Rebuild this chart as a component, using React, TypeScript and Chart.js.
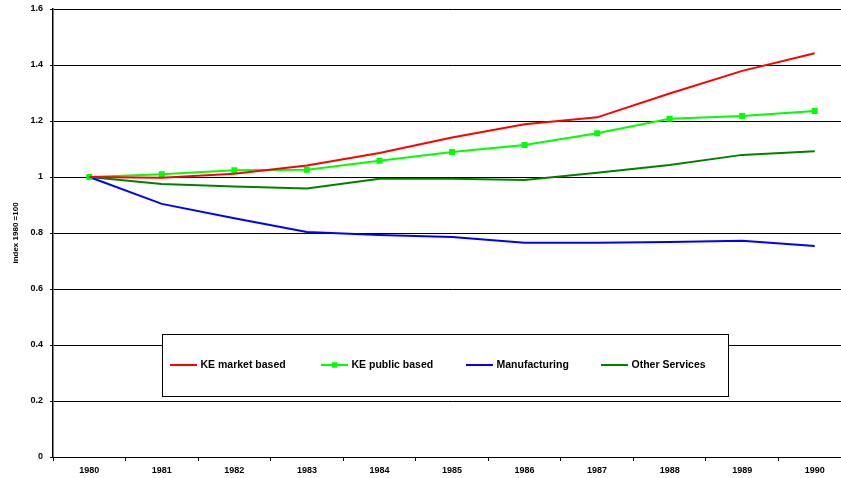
import React, { useEffect, useRef } from "react";
import { Chart, registerables } from "chart.js";

Chart.register(...registerables);

// Index values, 1980 = 1
const years = ["1980", "1981", "1982", "1983", "1984", "1985", "1986", "1987", "1988", "1989", "1990"];
const keMarketBased = [1.0, 0.997, 1.012, 1.041, 1.086, 1.141, 1.188, 1.213, 1.298, 1.379, 1.442];
const kePublicBased = [1.0, 1.01, 1.024, 1.026, 1.058, 1.089, 1.114, 1.156, 1.208, 1.218, 1.236];
const manufacturing = [1.0, 0.904, 0.853, 0.804, 0.793, 0.786, 0.765, 0.765, 0.768, 0.772, 0.754];
const otherServices = [1.0, 0.975, 0.966, 0.959, 0.994, 0.994, 0.989, 1.015, 1.043, 1.079, 1.092];

const seriesLabels = ["KE market based", "KE public based", "Manufacturing", "Other Services"];
const seriesColors = ["#ff0000", "#00ff00", "#0000ff", "#008000"];

const yMin = 0;
const yMax = 1.6;
const yStep = 0.2;
const yTitle = "index 1980 =100";

const FONT = "'Liberation Sans', Arial, Helvetica, sans-serif";

// Framed legend drawn inside the plot area, covering the grid beneath it
const boxLegend = {
  id: "boxLegend",
  afterDraw(chart: any, _args: any, opts: any) {
    const ctx = chart.ctx as CanvasRenderingContext2D;
    const { left, top, width, height, itemX, lineLength, textGap } = opts;
    ctx.save();
    ctx.fillStyle = "#ffffff";
    ctx.fillRect(left, top, width, height);
    ctx.strokeStyle = "#000000";
    ctx.lineWidth = 1;
    ctx.strokeRect(left + 0.5, top + 0.5, width, height);

    const cy = top + height / 2;
    ctx.font = `bold 10.5px ${FONT}`;
    ctx.textBaseline = "middle";
    ctx.textAlign = "left";
    chart.data.datasets.forEach((ds: any, i: number) => {
      const x = itemX[i];
      ctx.strokeStyle = ds.borderColor;
      ctx.lineWidth = 2;
      ctx.beginPath();
      ctx.moveTo(x, cy);
      ctx.lineTo(x + lineLength, cy);
      ctx.stroke();
      if (ds.pointRadius > 0) {
        const s = 5.5;
        ctx.fillStyle = ds.pointBackgroundColor;
        ctx.fillRect(x + lineLength / 2 - s / 2, cy - s / 2, s, s);
      }
      ctx.fillStyle = "#000000";
      ctx.fillText(ds.label, x + lineLength + textGap, cy);
    });
    ctx.restore();
  },
};

export default function App() {
  const canvasRef = useRef<HTMLCanvasElement | null>(null);

  useEffect(() => {
    const canvas = canvasRef.current;
    if (!canvas) return;
    const values = [keMarketBased, kePublicBased, manufacturing, otherServices];
    const chart = new Chart(canvas, {
      type: "line",
      data: {
        labels: years,
        datasets: values.map((data, i) => ({
          label: seriesLabels[i],
          data,
          borderColor: seriesColors[i],
          backgroundColor: seriesColors[i],
          borderWidth: 2,
          tension: 0,
          fill: false,
          pointStyle: "rect",
          pointRadius: i === 1 ? 4.2 : 0,
          pointHoverRadius: i === 1 ? 4.2 : 0,
          pointBorderWidth: 0,
          pointBackgroundColor: seriesColors[i],
        })),
      },
      options: {
        animation: false,
        responsive: false,
        devicePixelRatio: 1,
        layout: { padding: { top: 9, right: 5, bottom: 0, left: 0 } },
        plugins: {
          legend: { display: false },
          tooltip: { enabled: false },
          boxLegend: {
            left: 162,
            top: 334,
            width: 566,
            height: 62,
            itemX: [170, 321, 466, 601],
            lineLength: 27,
            textGap: 3.5,
          },
        } as any,
        scales: {
          x: {
            type: "category",
            offset: true,
            grid: {
              offset: true,
              drawOnChartArea: false,
              drawTicks: true,
              tickLength: 4,
              color: "#000000",
            },
            border: { color: "#000000", width: 1 },
            ticks: {
              color: "#000000",
              padding: 4,
              maxRotation: 0,
              font: { family: FONT, size: 9, weight: "bold" },
            },
            afterFit(scale: any) {
              scale.height = 21;
            },
          },
          y: {
            min: yMin,
            max: yMax,
            ticks: {
              stepSize: yStep,
              color: "#000000",
              padding: 7,
              font: { family: FONT, size: 9, weight: "bold" },
              callback: (v: any) => String(Number(Number(v).toFixed(1))),
            },
            grid: {
              color: "#000000",
              lineWidth: 1,
              drawTicks: true,
              tickLength: 3,
            },
            border: { color: "#000000", width: 1.5 },
            title: {
              display: true,
              text: yTitle,
              color: "#000000",
              padding: { top: 10.5, bottom: 0 },
              font: { family: FONT, size: 8, weight: "bold" },
            },
            afterFit(scale: any) {
              scale.width = 53;
              scale.paddingTop = 0;
              scale.paddingBottom = 0;
            },
          },
        },
      },
      plugins: [boxLegend],
    });
    return () => chart.destroy();
  }, []);

  return (
    <div style={{ position: "fixed", left: 0, top: 0, width: "100vw", height: "100vh", overflow: "hidden", background: "#fff" }}>
      <canvas ref={canvasRef} width={856} height={478} style={{ position: "absolute", left: 0, top: 0 }} />
    </div>
  );
}
